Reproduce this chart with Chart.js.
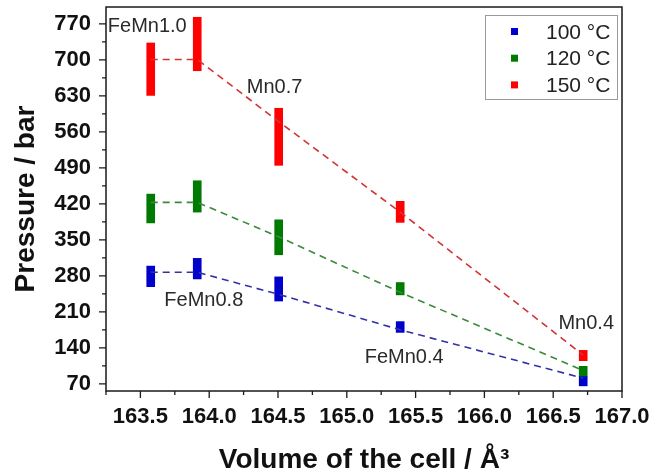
<!DOCTYPE html>
<html>
<head>
<meta charset="utf-8">
<script src="https://cdn.jsdelivr.net/npm/chart.js@4.4.1/dist/chart.umd.min.js"></script>
<style>
  html, body { margin: 0; padding: 0; background: #fff; }
  #wrap { width: 667px; height: 476px; }
</style>
</head>
<body>
<div id="wrap"><canvas id="pressureChart"></canvas></div>
<script>
// cell volumes (Å³) of the five samples
const volumes = [163.575, 163.913, 164.505, 165.388, 166.718];

// pressure ranges (bar): low end, high end, dashed-line value
const low100 = [259, 274, 231, 170, 66];
const high100 = [299, 314, 278, 191, 84];
const mid100 = [287, 287, 244, 175, 81];

const low120 = [383, 404, 321, 243, 84];
const high120 = [439, 465, 389, 267, 104];
const mid120 = [423, 423, 356, 248, 96];

const low150 = [631, 679, 495, 384, 115];
const high150 = [733, 783, 606, 425, 135];
const mid150 = [701, 701, 580, 404, 126];

const seriesLabels = ['100 °C', '120 °C', '150 °C'];

// tick labels
const xTicks = [163.5, 164.0, 164.5, 165.0, 165.5, 166.0, 166.5, 167.0];
const xMinor = [163.25, 163.75, 164.25, 164.75, 165.25, 165.75, 166.25, 166.75];
const yTicks = [70, 140, 210, 280, 350, 420, 490, 560, 630, 700, 770];
const yMinor = [105, 175, 245, 315, 385, 455, 525, 595, 665, 735];

// sample names written in the plot
const sampleNames = ['FeMn1.0', 'Mn0.7', 'FeMn0.8', 'FeMn0.4', 'Mn0.4'];
// where each name sits, in axis units (left edge, vertical middle)
const nameAnchorX = [163.263, 164.273, 163.674, 165.13, 166.538];
const nameAnchorY = [766, 646, 233, 122, 188];

const FONT = "'Liberation Sans', Arial, sans-serif";
const barColors = ['#0000cc', '#007a00', '#ff0000'];
const lineColors = ['#3232a6', '#3a8a3a', '#d23434'];

function ranges(lo, hi) {
  return volumes.map((v, i) => ({ x: v, y: [lo[i], hi[i]] }));
}
function points(mid) {
  return volumes.map((v, i) => ({ x: v, y: mid[i] }));
}

const lows = [low100, low120, low150];
const highs = [high100, high120, high150];
const mids = [mid100, mid120, mid150];

const datasets = [];
for (let s = 0; s < 3; s++) {
  datasets.push({
    type: 'line',
    label: seriesLabels[s] + ' line',
    data: points(mids[s]),
    borderColor: lineColors[s],
    borderWidth: 1.6,
    borderDash: [7, 5],
    pointRadius: 0,
    fill: false,
    order: 0
  });
}
for (let s = 0; s < 3; s++) {
  datasets.push({
    type: 'bar',
    label: seriesLabels[s],
    data: ranges(lows[s], highs[s]),
    backgroundColor: barColors[s],
    borderWidth: 0,
    barThickness: 8,
    grouped: false,
    order: 1
  });
}

// frame round the plot plus major/minor ticks
const frameTicks = {
  id: 'frameTicks',
  afterDraw(chart) {
    const { ctx, chartArea: a, scales: { x, y } } = chart;
    ctx.save();
    ctx.strokeStyle = '#1a1a1a';
    ctx.lineWidth = 1.5;
    ctx.strokeRect(a.left, a.top, a.right - a.left, a.bottom - a.top);
    ctx.lineWidth = 1.3;
    ctx.beginPath();
    xTicks.forEach(v => { const p = x.getPixelForValue(v); ctx.moveTo(p, a.bottom); ctx.lineTo(p, a.bottom + 7); });
    xMinor.forEach(v => { const p = x.getPixelForValue(v); ctx.moveTo(p, a.bottom); ctx.lineTo(p, a.bottom + 4); });
    yTicks.forEach(v => { const p = y.getPixelForValue(v); ctx.moveTo(a.left, p); ctx.lineTo(a.left - 7, p); });
    yMinor.forEach(v => { const p = y.getPixelForValue(v); ctx.moveTo(a.left, p); ctx.lineTo(a.left - 4, p); });
    ctx.stroke();
    ctx.restore();
  }
};

// sample names
const nameLabels = {
  id: 'nameLabels',
  afterDatasetsDraw(chart) {
    const { ctx, scales: { x, y } } = chart;
    ctx.save();
    ctx.font = '20px ' + FONT;
    ctx.fillStyle = '#2a2a2a';
    ctx.textAlign = 'left';
    ctx.textBaseline = 'middle';
    sampleNames.forEach((t, i) => {
      ctx.fillText(t, x.getPixelForValue(nameAnchorX[i]), y.getPixelForValue(nameAnchorY[i]));
    });
    ctx.restore();
  }
};

// boxed legend in the top right corner
const boxLegend = {
  id: 'boxLegend',
  afterDraw(chart) {
    const { ctx, chartArea: a } = chart;
    const w = 132, h = 84;
    const left = a.right - 5 - w, top = a.top + 8;
    ctx.save();
    ctx.strokeStyle = '#9a9a9a';
    ctx.lineWidth = 1;
    ctx.strokeRect(left + 0.5, top + 0.5, w, h);
    ctx.font = '21px ' + FONT;
    ctx.textBaseline = 'middle';
    ctx.textAlign = 'left';
    const bars = chart.data.datasets.filter(d => d.type === 'bar');
    bars.forEach((d, i) => {
      const cy = top + 17 + i * 26.7;
      ctx.fillStyle = d.backgroundColor;
      ctx.fillRect(left + 26, cy - 4, 7, 7);
      ctx.fillStyle = '#222';
      ctx.fillText(d.label, left + 61, cy + 1);
    });
    ctx.restore();
  }
};

new Chart(document.getElementById('pressureChart'), {
  type: 'bar',
  data: { datasets: datasets },
  options: {
    responsive: true,
    maintainAspectRatio: false,
    animation: false,
    layout: { padding: { top: 7, right: 45, left: 0, bottom: 0 } },
    plugins: {
      legend: { display: false },
      tooltip: { enabled: false }
    },
    scales: {
      x: {
        type: 'linear',
        min: 163.25,
        max: 167.0,
        offset: false,
        grid: { display: false },
        border: { display: false },
        afterBuildTicks: s => { s.ticks = xTicks.map(v => ({ value: v })); },
        afterFit: s => { s.height = 85; s.paddingLeft = 0; s.paddingRight = 0; },
        ticks: {
          autoSkip: false,
          maxRotation: 0,
          padding: 5,
          color: '#111',
          font: { family: FONT, size: 22, weight: 'bold' },
          callback: v => Number(v).toFixed(1)
        },
        title: {
          display: true,
          text: 'Volume of the cell / Å³',
          color: '#111',
          padding: { top: 0, bottom: 0 },
          font: { family: FONT, size: 28, weight: 'bold', lineHeight: 1.1 }
        }
      },
      y: {
        type: 'linear',
        min: 56,
        max: 803,
        grid: { display: false },
        border: { display: false },
        afterBuildTicks: s => { s.ticks = yTicks.map(v => ({ value: v })); },
        afterFit: s => { s.width = 106; s.paddingTop = 0; s.paddingBottom = 0; },
        ticks: {
          padding: 7,
          color: '#111',
          font: { family: FONT, size: 22, weight: 'bold' },
          callback: v => String(v)
        },
        title: {
          display: true,
          text: 'Pressure / bar',
          color: '#111',
          padding: { top: 9, bottom: 0 },
          font: { family: FONT, size: 28, weight: 'bold', lineHeight: 1.2 }
        }
      }
    }
  },
  plugins: [frameTicks, nameLabels, boxLegend]
});
</script>
</body>
</html>
